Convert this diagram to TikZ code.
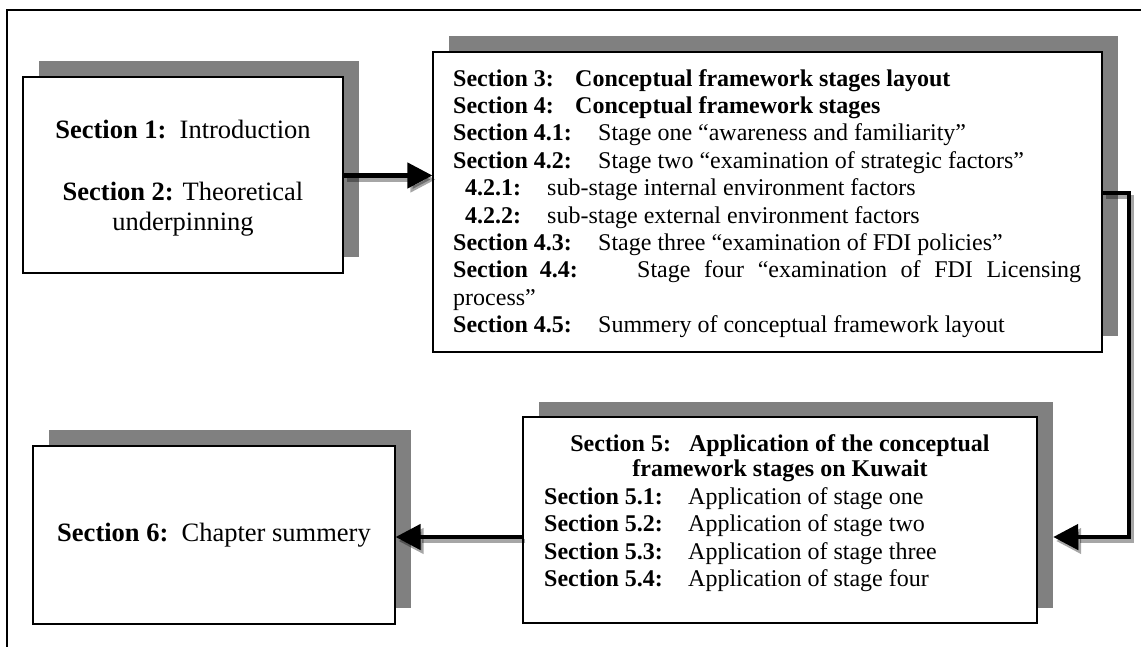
\documentclass[tikz,border=0pt]{standalone}
\usepackage{fontspec}
\setmainfont{Liberation Serif}
\usetikzlibrary{arrows.meta}
\definecolor{shadowgray}{HTML}{808080}
\tikzset{
  boxshape/.style={draw=black, line width=1.2pt, fill=white, inner sep=0pt},
  boxshadow/.style={fill=shadowgray, draw=none, inner sep=0pt},
  conn/.style={line width=4.5pt, line join=miter, -{Triangle[length=25pt,width=25pt]}},
  connshade/.style={conn, draw=black, opacity=0.35, transform canvas={shift={(3pt,-4pt)}}},
  txt/.style={inner sep=0pt},
}
\begin{document}
\begin{tikzpicture}[x=1pt,y=-1pt]
\useasboundingbox (0,0) rectangle (1141,646);
\clip (0,0) rectangle (1141,646);
% outer frame (cropped)
\draw[line width=1.8pt] (7,660) -- (7,10) -- (1160,10);

% shadows
\node[boxshadow, minimum width=320pt, minimum height=196pt] (s1) at (199,159) {};
\node[boxshadow, minimum width=669pt, minimum height=300pt] (s3) at (783.5,186) {};
\node[boxshadow, minimum width=514pt, minimum height=206pt] (s5) at (796,504.5) {};
\node[boxshadow, minimum width=362pt, minimum height=178pt] (s6) at (230,519) {};

% boxes
\node[boxshape, minimum width=320pt, minimum height=196pt] (b1) at (183,175) {};
\node[boxshape, minimum width=669pt, minimum height=300pt] (b3) at (767.5,202) {};
\node[boxshape, minimum width=514pt, minimum height=206pt] (b5) at (780,520) {};
\node[boxshape, minimum width=362pt, minimum height=178pt] (b6) at (214,535)
  {\fontsize{26.5}{30}\selectfont\textbf{Section 6:}\ \ Chapter summery};

% box 1 text
\node[txt, anchor=base] (t1) at (183,138) {\parbox[t]{310pt}{\centering\fontsize{26.5}{30}\selectfont
  \textbf{Section 1:}\ \ Introduction\\[32pt]
  \textbf{Section 2:} Theoretical\\
  underpinning\par}};

% box 3 text
\node[txt, anchor=base west] (t3) at (453,86) {\parbox[t]{628pt}{\fontsize{24}{27.4}\selectfont
  \makebox[122pt][l]{\textbf{Section 3:}}\textbf{Conceptual framework stages layout}\\
  \makebox[122pt][l]{\textbf{Section 4:}}\textbf{Conceptual framework stages}\\
  \makebox[145pt][l]{\textbf{Section 4.1:}}Stage one “awareness and familiarity”\\
  \makebox[145pt][l]{\textbf{Section 4.2:}}Stage two “examination of strategic factors”\\
  \hspace*{12pt}\makebox[82pt][l]{\textbf{4.2.1:}}sub-stage internal environment factors\\
  \hspace*{12pt}\makebox[82pt][l]{\textbf{4.2.2:}}sub-stage external environment factors\\
  \makebox[145pt][l]{\textbf{Section 4.3:}}Stage three “examination of FDI policies”\\
  \makebox[184pt][l]{\textbf{Section\hspace{12pt}4.4:}}\makebox[444pt][s]{Stage four “examination of FDI Licensing}\\
  process”\\
  \makebox[145pt][l]{\textbf{Section 4.5:}}Summery of conceptual framework layout\par}};

% box 5 text
\node[txt, anchor=base] (t5h) at (780,451.7) {\parbox[t]{500pt}{\centering\fontsize{24}{25}\selectfont\bfseries
  Section 5:\hspace{18pt}Application of the conceptual\\
  framework stages on Kuwait\par}};
\node[txt, anchor=base west] (t5i) at (544,504) {\parbox[t]{480pt}{\fontsize{24}{27.6}\selectfont
  \makebox[144pt][l]{\textbf{Section 5.1:}}Application of stage one\\
  \makebox[144pt][l]{\textbf{Section 5.2:}}Application of stage two\\
  \makebox[144pt][l]{\textbf{Section 5.3:}}Application of stage three\\
  \makebox[144pt][l]{\textbf{Section 5.4:}}Application of stage four\par}};

% connector waypoints
\coordinate (a1) at (380,175.5);
\coordinate (c1) at (1129,193);
\coordinate (c2) at (1129,537);
\coordinate (a3) at (450,537);

% connector shadows
\draw[connshade] (b1.east |- a1) -- (b3.west |- a1);
\draw[connshade] (b3.east |- c1) -- (c1) -- (c2) -- (s5.east |- c2);
\draw[connshade] (b5.west |- a3) -- (b6.east |- a3);

% connectors
\draw[conn] (b1.east |- a1) -- (b3.west |- a1);
\draw[conn] (b3.east |- c1) -- (c1) -- (c2) -- (s5.east |- c2);
\draw[conn] (b5.west |- a3) -- (b6.east |- a3);
\end{tikzpicture}
\end{document}
